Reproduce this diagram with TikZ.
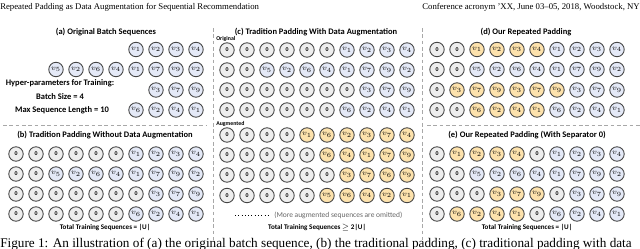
\documentclass[tikz,border=0pt]{standalone}
\usepackage{fontspec}
\setmainfont{Liberation Serif}
\newfontfamily\figfont{Carlito}
\usetikzlibrary{positioning}
\definecolor{zerofill}{HTML}{EEEEEE}
\definecolor{itemblue}{HTML}{E4E9F7}
\definecolor{itemorange}{HTML}{FDE2AC}
\definecolor{ringgray}{HTML}{444444}
\definecolor{sepgray}{HTML}{A8A8A8}
\newcommand{\zerolab}{{\figfont\bfseries\fontsize{4.6}{5}\selectfont 0}}
% one row of a batch: name, x of first cell, y, list of kind/item
\newcommand{\seqrow}[4]{%
  \foreach \kind/\idx [count=\c] in {#4}{
    \node[cell, \kind] (#1-\c) at ({#2+20*(\c-1)},#3)
      {\ifnum\idx=0 \zerolab\else$v_{\idx}$\fi};
  }}

\begin{document}
\begin{tikzpicture}[x=0.79pt,y=-0.79pt,
  cell/.style={circle, draw=ringgray, line width=0.7pt, minimum size=11.4pt, inner sep=0pt, font=\fontsize{6}{6}\selectfont},
  padc/.style={fill=zerofill},
  origc/.style={fill=itemblue},
  augc/.style={fill=itemorange},
  ttl/.style={font=\figfont\bfseries\fontsize{6.7}{7}\selectfont, inner sep=0pt},
  tot/.style={font=\figfont\bfseries\fontsize{5.6}{6}\selectfont, inner sep=0pt},
  tag/.style={font=\figfont\bfseries\fontsize{4.6}{5}\selectfont, inner sep=0pt, anchor=west},
  note/.style={font=\figfont\fontsize{5.9}{6}\selectfont, text=black!60, inner sep=0pt, anchor=west},
  hdr/.style={font=\fontsize{6.9}{7}\selectfont, inner sep=0pt},
  sep/.style={draw=sepgray, line width=0.5pt, dash pattern=on 3pt off 2pt},
]
\useasboundingbox (0,0) rectangle (640,249);

% --- running head of the page
\node[hdr, anchor=west] (headL) at (0,7) {Repeated Padding as Data Augmentation for Sequential Recommendation};
\node[hdr, anchor=east] (headR) at (640,7) {Conference acronym 'XX, June 03--05, 2018, Woodstock, NY};

% --- separators between the panels
\coordinate (sepAL) at (3,125);   \coordinate (sepAR) at (207,125);
\coordinate (sepDL) at (427,125); \coordinate (sepDR) at (640,125);
\coordinate (vsep1T) at (213,28); \coordinate (vsep1B) at (213,240);
\coordinate (vsep2T) at (422,28); \coordinate (vsep2B) at (422,240);
\draw[sep] (sepAL) -- (sepAR);
\draw[sep] (sepDL) -- (sepDR);
\draw[sep] (vsep1T) -- (vsep1B);
\draw[sep] (vsep2T) -- (vsep2B);

% --- (a) original batch, right aligned
\node[ttl] (titleA) at (106,32) {(a) Original Batch Sequences};
\seqrow{a1}{136}{49.5}{origc/1,origc/2,origc/3,origc/4}
\seqrow{a2}{56}{69.5}{origc/5,origc/2,origc/6,origc/4,origc/1,origc/7,origc/9,origc/2}
\seqrow{a3}{156}{90}{origc/3,origc/7,origc/9}
\seqrow{a4}{136}{110}{origc/6,origc/2,origc/4,origc/1}
\node[ttl] (hyper) at (60,83) {Hyper-parameters for Training:};
\node[ttl] (bsize) at (60,97) {Batch Size = 4};
\node[ttl] (maxlen) at (62,110) {Max Sequence Length = 10};

% --- (b) plain left padding
\node[ttl] (titleB) at (105,135) {(b) Tradition Padding Without Data Augmentation};
\seqrow{b1}{16}{154}{padc/0,padc/0,padc/0,padc/0,padc/0,padc/0,origc/1,origc/2,origc/3,origc/4}
\seqrow{b2}{16}{174}{padc/0,padc/0,origc/5,origc/2,origc/6,origc/4,origc/1,origc/7,origc/9,origc/2}
\seqrow{b3}{16}{194}{padc/0,padc/0,padc/0,padc/0,padc/0,padc/0,padc/0,origc/3,origc/7,origc/9}
\seqrow{b4}{16}{214}{padc/0,padc/0,padc/0,padc/0,padc/0,padc/0,origc/6,origc/2,origc/4,origc/1}
\node[tot] (totalB) at (105,228) {Total Training Sequences = |U|};

% --- (c) padding plus augmented copies
\node[ttl] (titleC) at (316,32) {(c) Tradition Padding With Data Augmentation};
\node[tag] (origTag) at (216,38.5) {Original};
\seqrow{c1}{227}{50}{padc/0,padc/0,padc/0,padc/0,padc/0,padc/0,origc/1,origc/2,origc/3,origc/4}
\seqrow{c2}{227}{70}{padc/0,padc/0,origc/5,origc/2,origc/6,origc/4,origc/1,origc/7,origc/9,origc/2}
\seqrow{c3}{227}{90}{padc/0,padc/0,padc/0,padc/0,padc/0,padc/0,padc/0,origc/3,origc/7,origc/9}
\seqrow{c4}{227}{110}{padc/0,padc/0,padc/0,padc/0,padc/0,padc/0,origc/6,origc/2,origc/4,origc/1}
\node[tag] (augTag) at (216,124) {Augmented};
\seqrow{c5}{227}{135}{padc/0,padc/0,padc/0,padc/0,augc/1,augc/6,augc/2,augc/3,augc/7,augc/4}
\seqrow{c6}{227}{155}{padc/0,padc/0,padc/0,padc/0,padc/0,augc/6,augc/4,augc/1,augc/7,augc/9}
\seqrow{c7}{227}{175}{padc/0,padc/0,padc/0,padc/0,padc/0,padc/0,augc/3,augc/7,augc/6,augc/9}
\seqrow{c8}{227}{195.5}{padc/0,padc/0,padc/0,padc/0,padc/0,augc/5,augc/6,augc/4,augc/2,augc/1}
\coordinate (dotsL) at (235,215); \coordinate (dotsR) at (268,215);
\draw[dotted, line width=0.6pt] (dotsL) -- (dotsR);
\node[note] (omitted) at (274,215) {(More augmented sequences are omitted)};
\node[tot] (totalC) at (317,228) {Total Training Sequences $\geq$ 2|U|};

% --- (d) repeated padding
\node[ttl] (titleD) at (526,32) {(d) Our Repeated Padding};
\seqrow{d1}{437}{49.5}{padc/0,padc/0,augc/1,augc/2,augc/3,augc/4,origc/1,origc/2,origc/3,origc/4}
\seqrow{d2}{437}{69.5}{padc/0,padc/0,origc/5,origc/2,origc/6,origc/4,origc/1,origc/7,origc/9,origc/2}
\seqrow{d3}{437}{90}{padc/0,augc/3,augc/7,augc/9,augc/3,augc/7,augc/9,origc/3,origc/7,origc/9}
\seqrow{d4}{437}{110}{padc/0,padc/0,augc/6,augc/2,augc/4,augc/1,origc/6,origc/2,origc/4,origc/1}

% --- (e) repeated padding with a 0 between copies
\node[ttl] (titleE) at (527,135) {(e) Our Repeated Padding (With Separator 0)};
\seqrow{e1}{437}{154}{padc/0,augc/1,augc/2,augc/3,augc/4,padc/0,origc/1,origc/2,origc/3,origc/4}
\seqrow{e2}{437}{174}{padc/0,padc/0,origc/5,origc/2,origc/6,origc/4,origc/1,origc/7,origc/9,origc/2}
\seqrow{e3}{437}{194}{padc/0,padc/0,padc/0,augc/3,augc/7,augc/9,padc/0,origc/3,origc/7,origc/9}
\seqrow{e4}{437}{214}{padc/0,augc/6,augc/2,augc/4,augc/1,padc/0,origc/6,origc/2,origc/4,origc/1}
\node[tot] (totalE) at (527,228) {Total Training Sequences = |U|};

% --- caption, cut by the lower edge as in the page crop
\node[font=\fontsize{10.45}{11}\selectfont, anchor=base west, inner sep=0pt] (caption) at (0,248)
  {Figure 1: An illustration of (a) the original batch sequence, (b) the traditional padding, (c) traditional padding with data};

\end{tikzpicture}
\end{document}
